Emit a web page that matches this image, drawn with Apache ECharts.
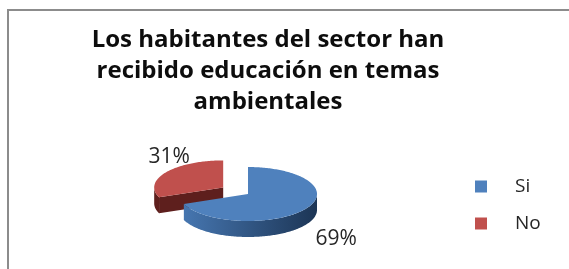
<!DOCTYPE html>
<html>
<head>
<meta charset="utf-8">
<script src="https://cdn.jsdelivr.net/npm/echarts@6/dist/echarts.min.js"></script>
<style>
  html, body { margin: 0; padding: 0; background: #fff; overflow: hidden; }
  #frame {
    position: absolute; left: 7px; top: 9px; width: 600px; height: 300px;
    border-left: 2px solid #8c8c8c; border-top: 2px solid #8c8c8c;
  }
  #chart { position: absolute; left: 0; top: 0; width: 569px; height: 269px; }
</style>
</head>
<body>
<div id="frame"></div>
<div id="chart"></div>
<script>
// data
const titleText = "Los habitantes del sector han\nrecibido educación en temas\nambientales";
const categories = ["Si", "No"];
const values = [69, 31];

// look of each slice (not data)
const sliceStyle = [
  { top: "#4f81bd", side: ["#4676b0", "#1c3555"], explode: 0, labelShift: [31, 30] },
  { top: "#c0504d", side: ["#5e1f1d", "#5e1f1d"], explode: 30, labelShift: [3, -15] },
];
const PIE = { cx: 248, cy: 194, rx: 69, ry: 27, depth: 16 };

const total = values.reduce((s, v) => s + v, 0);
const starts = [];
values.reduce((acc, v, i) => { starts[i] = acc; return acc + v; }, 0);

function arcPts(cx, cy, a0, a1, dy) {
  const pts = [];
  const n = Math.max(2, Math.ceil((a1 - a0) / 0.02));
  for (let k = 0; k <= n; k++) {
    const a = a0 + (a1 - a0) * k / n;
    pts.push([cx + PIE.rx * Math.sin(a), cy - PIE.ry * Math.cos(a) + dy]);
  }
  return pts;
}

function makeRender(i) {
  return function (params, api) {
    const v = api.value(0);
    const st = sliceStyle[i];
    const a0 = starts[i] / total * Math.PI * 2;
    const a1 = a0 + v / total * Math.PI * 2;
    const m = (a0 + a1) / 2;
    const cx = PIE.cx + st.explode * Math.sin(m);
    const cy = PIE.cy - st.explode * Math.cos(m) * PIE.ry / PIE.rx;
    const d = PIE.depth;
    const children = [];

    // outer wall, front half only
    const w0 = Math.max(a0, Math.PI / 2), w1 = Math.min(a1, Math.PI * 1.5);
    if (w1 > w0) {
      const top = arcPts(cx, cy, w0, w1, 0);
      const bot = arcPts(cx, cy, w0, w1, d).reverse();
      children.push({
        type: "polygon",
        shape: { points: top.concat(bot) },
        style: {
          fill: { type: "linear", x: 0, y: 0, x2: 1, y2: 0,
            colorStops: [{ offset: 0, color: st.side[0] }, { offset: 1, color: st.side[1] }] },
        },
      });
    }
    // cut faces that look to the front
    [[a0, a0 - Math.PI / 2], [a1, a1 + Math.PI / 2]].forEach(([a, n]) => {
      if (Math.cos(n) < -0.05) {
        const p = [cx + PIE.rx * Math.sin(a), cy - PIE.ry * Math.cos(a)];
        children.push({
          type: "polygon",
          shape: { points: [[cx, cy], p, [p[0], p[1] + d], [cx, cy + d]] },
          style: { fill: st.side[1] },
        });
      }
    });
    // top face
    children.push({
      type: "polygon",
      shape: { points: [[cx, cy]].concat(arcPts(cx, cy, a0, a1, 0)) },
      style: { fill: st.top },
    });
    // percent label
    const lx = cx + PIE.rx * Math.sin(m) + st.labelShift[0];
    const ly = cy - PIE.ry * Math.cos(m) + st.labelShift[1];
    children.push({
      type: "text",
      style: {
        text: Math.round(v / total * 100) + "%",
        x: lx, y: ly, align: "center", verticalAlign: "middle",
        font: "21px 'Open Sans'", fill: "#262626",
      },
    });
    return { type: "group", children: children };
  };
}

const chart = echarts.init(document.getElementById("chart"), null, { renderer: "canvas" });
const option = {
  animation: false,
  title: {
    text: titleText,
    left: 268,
    top: 25,
    padding: 0,
    textAlign: "center",
    textStyle: {
      fontFamily: "Open Sans",
      fontWeight: "bold",
      fontSize: 24,
      lineHeight: 31,
      color: "#0d0d0d",
    },
  },
  legend: {
    orient: "vertical",
    left: 470,
    top: 172,
    itemWidth: 12,
    itemHeight: 12,
    itemGap: 18,
    icon: "rect",
    selectedMode: false,
    data: categories,
    textStyle: {
      fontFamily: "Open Sans",
      fontSize: 19,
      color: "#262626",
      padding: [0, 0, 0, 23],
    },
  },
  series: categories.map((name, i) => ({
    type: "custom",
    name: name,
    coordinateSystem: "none",
    z: i === 0 ? 3 : 2,
    itemStyle: { color: sliceStyle[i].top },
    renderItem: makeRender(i),
    data: [[values[i]]],
  })),
};
chart.setOption(option);
</script>
</body>
</html>
